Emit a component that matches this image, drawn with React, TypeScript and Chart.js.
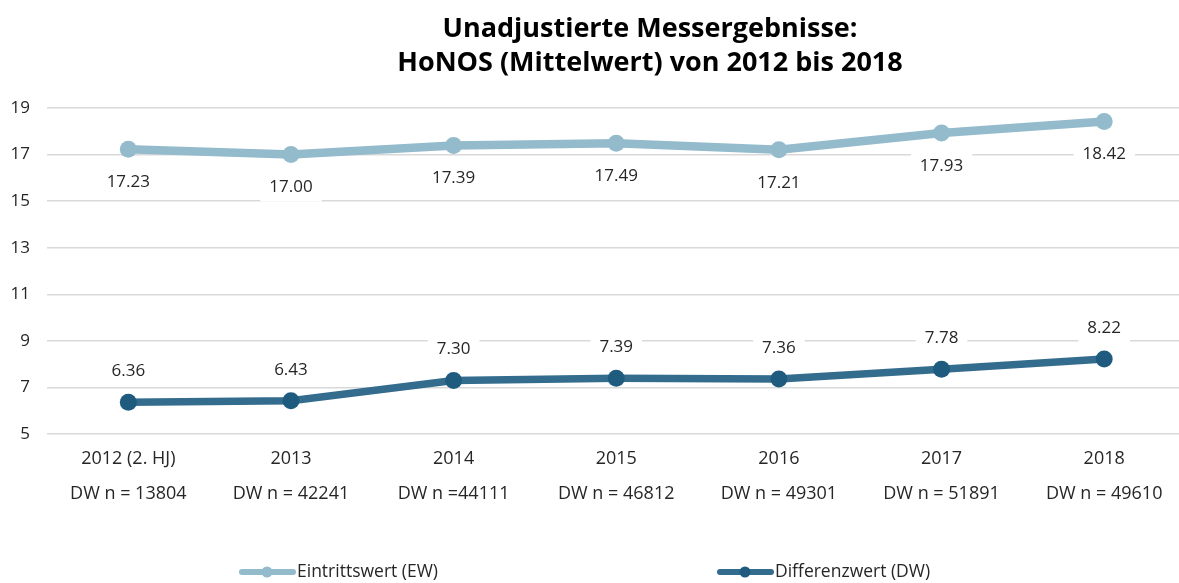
import React, { useEffect, useRef } from "react";
import { Chart, registerables } from "chart.js";

Chart.register(...registerables);

const categories = ["2012 (2. HJ)", "2013", "2014", "2015", "2016", "2017", "2018"];
const dwCounts = ["DW n = 13804", "DW n = 42241", "DW n =44111", "DW n = 46812", "DW n = 49301", "DW n = 51891", "DW n = 49610"];
const ewValues = [17.23, 17.0, 17.39, 17.49, 17.21, 17.93, 18.42];
const dwValues = [6.36, 6.43, 7.3, 7.39, 7.36, 7.78, 8.22];
const yMin = 5;
const yMax = 19;
const yStep = 2;
const titleLines = ["Unadjustierte Messergebnisse:", "HoNOS (Mittelwert) von 2012 bis 2018"];

const FONT = "'Open Sans', 'Noto Sans', sans-serif";
const TEXT = "#262626";

const titlePlugin = {
  id: "customTitle",
  afterDraw(chart: any) {
    const ctx = chart.ctx;
    ctx.save();
    ctx.font = `bold 27px ${FONT}`;
    ctx.fillStyle = "#000000";
    ctx.textAlign = "center";
    ctx.textBaseline = "middle";
    titleLines.forEach((line, i) => {
      ctx.fillText(line, 650, 29 + i * 34);
    });
    ctx.restore();
  },
};

const dataLabelPlugin = {
  id: "dataLabels",
  beforeDatasetsDraw(chart: any) {
    const ctx = chart.ctx;
    ctx.save();
    ctx.font = `17px ${FONT}`;
    ctx.textAlign = "center";
    ctx.textBaseline = "middle";
    chart.data.datasets.forEach((ds: any, i: number) => {
      const meta = chart.getDatasetMeta(i);
      const off = ds.labelOffset as number;
      meta.data.forEach((pt: any, j: number) => {
        const txt = Number(ds.data[j]).toFixed(2);
        const x = pt.x;
        const y = pt.y + off;
        const w = ctx.measureText(txt).width + 18;
        const h = 28;
        ctx.fillStyle = "#ffffff";
        ctx.fillRect(x - w / 2, y - h / 2, w, h);
        ctx.fillStyle = TEXT;
        ctx.fillText(txt, x, y);
      });
    });
    ctx.restore();
  },
};

const legendPlugin = {
  id: "customLegend",
  afterDraw(chart: any) {
    const ctx = chart.ctx;
    const y = 572;
    const xs = [240, 718];
    ctx.save();
    ctx.font = `17.5px ${FONT}`;
    ctx.textBaseline = "middle";
    ctx.textAlign = "left";
    chart.data.datasets.forEach((ds: any, i: number) => {
      const x0 = xs[i];
      ctx.strokeStyle = ds.borderColor;
      ctx.lineWidth = 6;
      ctx.lineCap = "round";
      ctx.beginPath();
      ctx.moveTo(x0 + 2, y);
      ctx.lineTo(x0 + 53, y);
      ctx.stroke();
      ctx.fillStyle = ds.pointBackgroundColor;
      ctx.beginPath();
      ctx.arc(x0 + 27, y, 5.5, 0, Math.PI * 2);
      ctx.fill();
      ctx.fillStyle = TEXT;
      ctx.fillText(ds.label, x0 + 57, y);
    });
    ctx.restore();
  },
};

export default function App() {
  const ref = useRef<HTMLCanvasElement | null>(null);
  useEffect(() => {
    document.body.style.margin = "0";
    document.body.style.overflow = "hidden";
    if (!ref.current) return;
    const chart = new Chart(ref.current, {
      type: "line",
      data: {
        labels: categories.map((c, i) => [c, dwCounts[i]]),
        datasets: [
          {
            label: "Eintrittswert (EW)",
            data: ewValues,
            borderColor: "#93bbcc",
            backgroundColor: "#93bbcc",
            pointBackgroundColor: "#93bbcc",
            pointBorderColor: "#93bbcc",
            borderWidth: 8.5,
            pointRadius: 8.5,
            pointBorderWidth: 0,
            tension: 0,
            labelOffset: 33,
          } as any,
          {
            label: "Differenzwert (DW)",
            data: dwValues,
            borderColor: "#346c8e",
            backgroundColor: "#346c8e",
            pointBackgroundColor: "#1f5a7f",
            pointBorderColor: "#1f5a7f",
            borderWidth: 7.5,
            pointRadius: 8.5,
            pointBorderWidth: 0,
            tension: 0,
            labelOffset: -31,
          } as any,
        ],
      },
      options: {
        animation: false,
        responsive: false,
        maintainAspectRatio: false,
        layout: { padding: { left: 11, right: 0, top: 108, bottom: 65 } },
        plugins: {
          legend: { display: false },
          tooltip: { enabled: false },
          title: { display: false },
        },
        scales: {
          x: {
            offset: true,
            grid: { display: false, drawTicks: false },
            border: { display: false },
            ticks: {
              color: TEXT,
              padding: 7,
              maxRotation: 0,
              autoSkip: false,
              font: { family: FONT, size: 18, lineHeight: 1.944 },
            },
          },
          y: {
            min: yMin,
            max: yMax,
            grid: { color: "#d9d9d9", lineWidth: 1.5, drawTicks: false },
            border: { display: false },
            afterFit(scale: any) {
              scale.width = 36;
            },
            ticks: {
              stepSize: yStep,
              color: TEXT,
              padding: 17,
              font: { family: FONT, size: 17 },
            },
          },
        },
      },
      plugins: [dataLabelPlugin, legendPlugin, titlePlugin],
    });
    return () => chart.destroy();
  }, []);
  return (
    <div style={{ width: 1179, height: 583, overflow: "hidden" }}>
      <canvas ref={ref} width={1194} height={583} style={{ display: "block" }} />
    </div>
  );
}
